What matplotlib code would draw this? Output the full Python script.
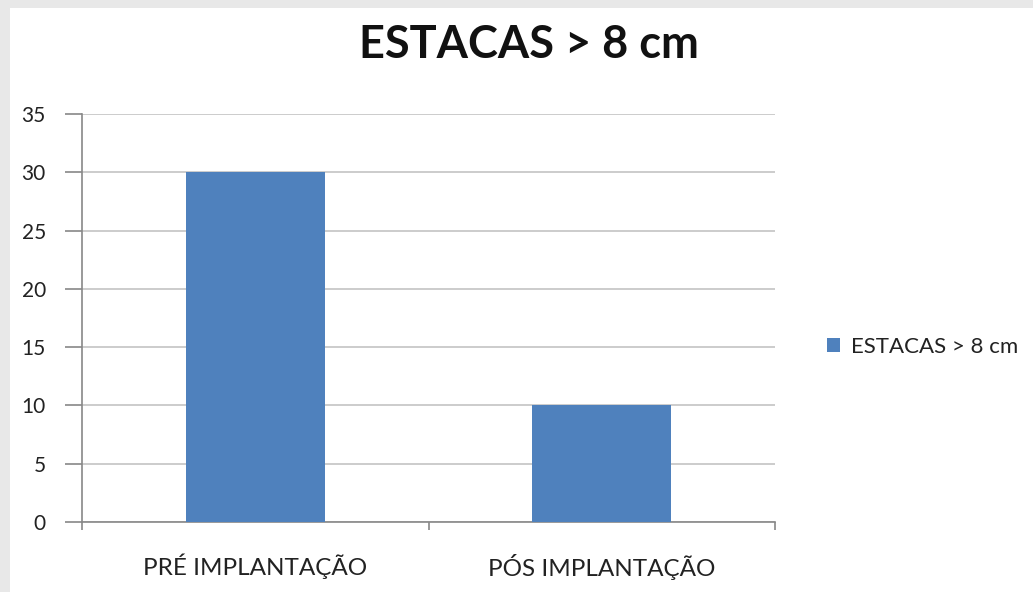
import matplotlib.pyplot as plt
from matplotlib.patches import Rectangle

categories = ["PRÉ IMPLANTAÇÃO", "PÓS IMPLANTAÇÃO"]
values = [30, 10]
series_name = "ESTACAS > 8 cm"
yticks = [0, 5, 10, 15, 20, 25, 30, 35]

W, H = 1033, 592
plt.rcParams['font.family'] = ['Lato', 'DejaVu Sans']

fig = plt.figure(figsize=(W / 100, H / 100), dpi=100)
fig.patch.set_facecolor('#e8e8e8')
# white chart area inside the gray frame
fig.patches.append(Rectangle((10 / W, 0), 1 - 10 / W, 1 - 8 / H, transform=fig.transFigure,
                             facecolor='white', edgecolor='none', zorder=-5))

ax = fig.add_axes([82 / W, 1 - 522 / H, (775 - 82) / W, (522 - 114) / H])
ax.set_facecolor('none')
x = range(len(categories))
ax.bar(x, values, width=0.4, color='#4F81BD', zorder=3, label=series_name)
ax.set_xlim(-0.5, len(categories) - 0.5)
ax.set_ylim(0, 35)
ax.set_yticks(yticks)
ax.yaxis.grid(True, color='#c4c4c4', linewidth=1.2)
ax.set_axisbelow(True)

ax.set_xticks([-0.5, 0.5, 1.5])
ax.set_xticklabels([])
ax.set_xticks(list(x), minor=True)
ax.set_xticklabels(categories, minor=True, fontsize=17.5, color='#222222')
ax.tick_params(axis='x', which='minor', length=0, pad=23)
ax.tick_params(axis='x', which='major', length=6, color='#888888', width=1.2)
ax.tick_params(axis='y', length=12, color='#888888', width=1.2, labelsize=15,
               labelcolor='#222222', pad=14)
for s in ['top', 'right']:
    ax.spines[s].set_visible(False)
for s in ['left', 'bottom']:
    ax.spines[s].set_color('#888888')
    ax.spines[s].set_linewidth(1.2)

fig.text(529 / W, 1 - 45 / H, series_name, ha='center', va='center',
         fontsize=32.5, fontweight='bold', color='#111111')

leg = fig.legend(loc='center left', bbox_to_anchor=(807 / W, 1 - 347 / H), frameon=False,
                 fontsize=16, handlelength=0.6, handleheight=0.6, handletextpad=0.5)
for t in leg.get_texts():
    t.set_color('#222222')

fig.savefig('out.png', dpi=100, facecolor=fig.get_facecolor())
